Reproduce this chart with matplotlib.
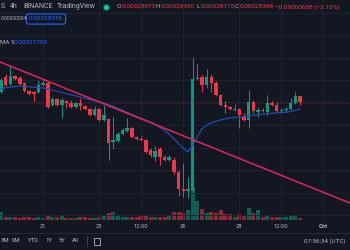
import matplotlib
matplotlib.use('Agg')
import matplotlib.pyplot as plt
from matplotlib.lines import Line2D
from matplotlib.patches import Rectangle
import numpy as np

# ---- data (prices in units of 1e-6) ----
opens = [294, 309, 302, 310, 308, 303, 295, 294, 294, 301,
         303, 281, 287, 281, 285, 283, 279, 283, 280, 277,
         271, 277, 266, 267, 244, 245, 252, 255, 258, 249,
         247, 246, 236, 229, 237, 229, 226, 226, 214, 197,
         195, 196, 307, 309, 301, 309, 303, 291, 281, 279,
         276, 277, 270, 266, 284, 274, 276, 274, 283, 281,
         275, 276, 277, 283, 289.73]
highs = [308, 312, 320, 311, 310, 304, 296, 295, 306, 306,
         304, 289, 288, 288, 286, 286, 284, 288, 281, 278,
         280, 278, 281, 268, 269, 254, 258, 268, 259, 250,
         250, 247, 238, 240, 239, 231, 231, 229, 216, 223,
         209, 329, 322, 311, 317, 312, 305, 292, 285, 280,
         282, 278, 273, 296, 286, 279, 278, 291, 285, 284,
         278, 279, 288, 294, 289.90]
lows = [293, 300, 301, 306, 301, 294, 291, 285, 293, 300,
        278, 280, 280, 268, 278, 278, 278, 276, 276, 270,
        270, 265, 265, 226, 237, 244, 251, 254, 248, 246,
        245, 233, 229, 225, 221, 225, 225, 212, 190, 189,
        188, 194, 306, 294, 298, 294, 290, 280, 273, 276,
        275, 258, 265, 258, 273, 269, 274, 271, 280, 274,
        273, 274, 276, 282, 281.15]
closes = [306, 301, 310, 307, 302, 295, 292, 292, 301, 303,
          279, 287, 281, 286, 283, 279, 283, 280, 277, 271,
          277, 266, 271, 243, 246, 252, 256, 258, 249, 247,
          246, 234, 231, 235, 229, 226, 229, 214, 197, 195,
          197, 307, 308, 301, 309, 303, 291, 281, 279, 277,
          277, 271, 266, 284, 275, 276, 275, 283, 281, 275,
          276, 277, 283, 289.7, 283.68]
volumes = [8.3, 3.3, 2.7, 2.7, 2.0, 2.7, 2.7, 2.0, 3.3, 2.0,
           4.0, 2.7, 2.7, 5.3, 2.0, 2.0, 2.0, 2.7, 2.7, 2.0,
           2.0, 2.7, 4.0, 7.3, 8.3, 5.0, 2.7, 2.7, 2.7, 2.7,
           4.0, 4.0, 3.3, 2.7, 2.7, 2.7, 4.7, 8.0, 8.0, 7.0,
           10.0, 32.0, 19.3, 11.0, 7.3, 8.3, 7.3, 10.0, 6.0, 6.0,
           3.3, 6.0, 4.0, 11.7, 7.3, 10.0, 3.3, 5.0, 2.7, 2.7,
           3.3, 3.3, 4.0, 5.0, 1.7]
ma_values = [297.2, 298.2, 299.0, 299.5, 300.0, 299.7, 299.3, 298.9, 298.4, 298.0,
             296.9, 295.8, 294.7, 293.6, 292.4, 291.2, 290.1, 288.9, 287.7, 286.5,
             285.4, 284.2, 282.9, 281.5, 279.6, 277.6, 275.6, 273.5, 271.5, 269.6,
             267.7, 265.8, 264.0, 261.6, 258.6, 255.6, 251.8, 247.1, 242.5, 237.8,
             234.1, 241.0, 249.3, 257.2, 260.8, 263.1, 264.8, 266.0, 267.3, 268.1,
             268.5, 268.8, 269.3, 270.0, 270.7, 271.3, 271.8, 272.2, 272.7, 273.1,
             273.5, 273.8, 274.6, 275.6, 277.1]
trend_x = [0, 64]
trend_y = [323.6, 203.1]
tick_idx = [9, 21, 30, 39, 51, 60, 69]
tick_labels = ['21', '23', '12:00', '26', '28', '12:00', 'Oct']
ohlc_labels = ['O', 'H', 'L', 'C']
ohlc_values = ['0.00028973', '0.00028990', '0.00028115', '0.00028368']
change_text = '\u22120.00000608 (\u22122.10%)'
range_buttons = ['3M', '6M', 'YTD', '1Y', '5Y', 'All']

# ---- style ----
BG = '#131722'
UP = '#089981'
DOWN = '#f23645'
GRID = '#1e2331'
TXT = '#b2b5be'
BLUE = '#2962ff'
FONT = 'Roboto'
W, H = 350, 250

fig = plt.figure(figsize=(3.5, 2.5), dpi=100)
fig.patch.set_facecolor(BG)
ax_v = fig.add_axes([0, 0, 1, 1])
ax = fig.add_axes([0, 0, 1, 1])
for a in (ax_v, ax):
    a.set_xlim(-0.2355, 74.71)
    a.set_axis_off()
ax.set_ylim(136, 386)
ax_v.set_ylim(-30, 220)

x = np.arange(len(opens))
o = np.array(opens, float); c = np.array(closes, float)
hi = np.array(highs, float); lo = np.array(lows, float)
up = c >= o
cols = np.where(up, UP, DOWN)

# grid
for gy in np.arange(171, 386, 22.5):
    ax.axhline(gy, color=GRID, lw=0.6, zorder=0)
ax.vlines(tick_idx, 166, 386, color=GRID, lw=0.6, zorder=0)

# volume
ax_v.bar(x, volumes, width=0.86, color=cols, alpha=0.55, linewidth=0)

# candles
ax.vlines(x, lo, hi, colors=cols, lw=0.7, zorder=2)
ax.bar(x, np.maximum(np.abs(c - o), 0.7), bottom=np.minimum(o, c), width=0.74,
       color=cols, linewidth=0, zorder=3)

# last price line
ax.axhline(c[-1], color=DOWN, lw=0.7, ls=(0, (1, 1.5)), alpha=0.4, zorder=1)

# MA
ax.plot(x, ma_values, color='#1f4cb0', lw=0.9, zorder=4)

# trend line
ax.axline((trend_x[0], trend_y[0]), (trend_x[1], trend_y[1]), color='#e3245c', lw=1.1, zorder=5)

def fx(px):
    return px / W
def fy(py):
    return 1 - py / H

# top legend
fig.text(fx(0.5), fy(7), 'S', color=TXT, fontsize=5, family=FONT, ha='left', va='center')
fig.text(fx(10), fy(7), '4h', color=TXT, fontsize=5, family=FONT, ha='left', va='center')
fig.text(fx(23), fy(7), 'BINANCE', color=TXT, fontsize=5, family=FONT, ha='left', va='center')
fig.text(fx(57), fy(7), 'TradingView', color=TXT, fontsize=5, family=FONT, ha='left', va='center')
fig.add_artist(Line2D([fx(106)], [fy(7)], marker='o', ms=5, color=UP, alpha=0.25,
                      transform=fig.transFigure))
fig.add_artist(Line2D([fx(106)], [fy(7)], marker='o', ms=2.6, color='#22c79f',
                      transform=fig.transFigure))
xs = [117, 156, 196, 235]
for xx, lab, val in zip(xs, ohlc_labels, ohlc_values):
    fig.text(fx(xx), fy(7), lab, color=TXT, fontsize=4.6, family=FONT, ha='left', va='center')
    fig.text(fx(xx + 4.2), fy(7), val, color=DOWN, fontsize=4.6, family=FONT, ha='left', va='center')
fig.text(fx(275), fy(7), change_text, color=DOWN, fontsize=4.6, family=FONT, ha='left', va='center')

# second row
fig.text(fx(0.5), fy(19), '0.00000004', color=TXT, fontsize=3.6, family=FONT, ha='left', va='center')
fig.text(fx(46), fy(19), '0.00028356', color=BLUE, fontsize=4.6, family=FONT, ha='center', va='center',
         bbox=dict(boxstyle='round,pad=0.4,rounding_size=0.3', fc=BG, ec=BLUE, lw=0.8))

# MA legend
fig.text(fx(0.5), fy(42), 'MA 5', color=TXT, fontsize=4.4, family=FONT, ha='left', va='center')
fig.text(fx(14), fy(42), '0.00027709', color=BLUE, fontsize=4.6, family=FONT, ha='left', va='center')

# time axis labels
for t, lab in zip(tick_idx, tick_labels):
    xp = 1.1 + 4.67 * t
    fig.text(fx(xp), fy(226.5), lab, color=TXT, fontsize=4.2, family=FONT,
             ha='center', va='center', fontweight='bold' if lab == 'Oct' else 'normal')

# separator line
fig.add_artist(Line2D([0, 1], [fy(233), fy(233)], color='#2a2e39', lw=0.6, transform=fig.transFigure))

# bottom toolbar
bx = [0.5, 12, 27.5, 45.5, 58.5, 72]
for xx, lab in zip(bx, range_buttons):
    fig.text(fx(xx), fy(241), lab, color=TXT, fontsize=4.3, family=FONT, ha='left', va='center')
fig.add_artist(Line2D([fx(87), fx(87)], [fy(236), fy(246)], color='#434651', lw=0.6,
                      transform=fig.transFigure))
fig.add_artist(Rectangle((fx(94), fy(245)), 6 / W, 7 / H, fill=False, ec=TXT, lw=0.6,
                         transform=fig.transFigure))
fig.text(fx(345), fy(241), '07:56:34 (UTC)', color=TXT, fontsize=4.5, family=FONT,
         ha='right', va='center')

fig.savefig('out.png', dpi=100, facecolor=BG)
